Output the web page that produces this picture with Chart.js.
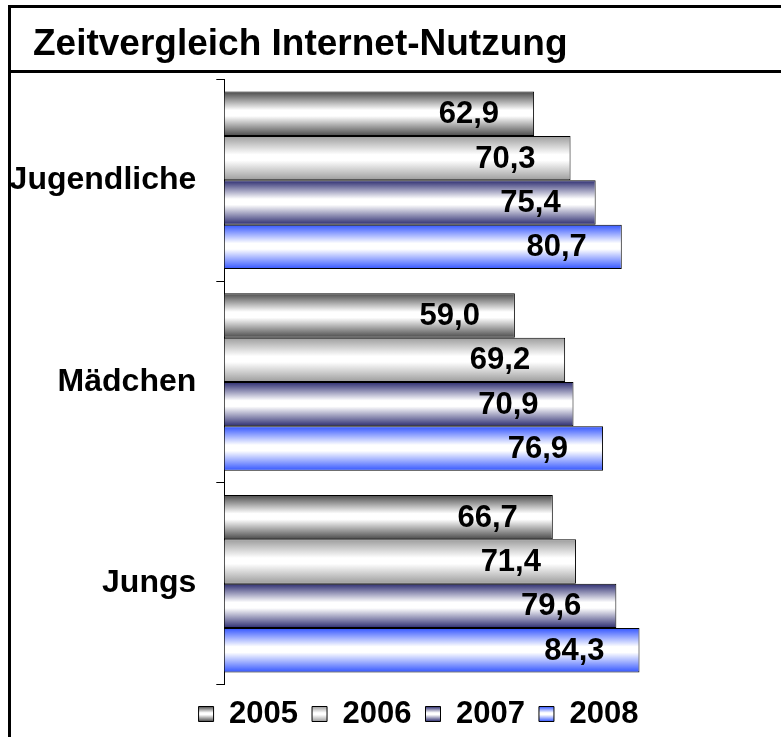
<!DOCTYPE html>
<html>
<head>
<meta charset="utf-8">
<script src="https://cdn.jsdelivr.net/npm/chart.js@4.4.1/dist/chart.umd.min.js"></script>
<style>
  html, body { margin: 0; padding: 0; width: 781px; height: 737px; overflow: hidden; background: #fff; }
  #wrap { position: absolute; left: 11px; top: 8px; width: 793px; height: 732px; }
  .line { position: absolute; background: #000; z-index: 5; }
</style>
</head>
<body>
<div id="wrap"><canvas id="c"></canvas></div>
<div class="line" style="left:8px; top:5px; width:800px; height:3px;"></div>
<div class="line" style="left:8px; top:5px; width:3px; height:740px;"></div>
<div class="line" style="left:8px; top:70px; width:800px; height:3px;"></div>
<script>
const titleText = 'Zeitvergleich Internet-Nutzung';
const categories = ['Jugendliche', 'Mädchen', 'Jungs'];
const seriesNames = ['2005', '2006', '2007', '2008'];
const values2005 = [62.9, 59.0, 66.7];
const values2006 = [70.3, 69.2, 71.4];
const values2007 = [75.4, 70.9, 79.6];
const values2008 = [80.7, 76.9, 84.3];
const edgeColors = ['#4a4a4a', '#9c9c9c', '#2c2c70', '#3355ff'];

const FONT = "'Liberation Sans', Arial, sans-serif";

function makeGrad(ctx, top, h, color) {
  const g = ctx.createLinearGradient(0, top, 0, top + h);
  g.addColorStop(0, color);
  g.addColorStop(0.42, '#ffffff');
  g.addColorStop(0.55, '#ffffff');
  g.addColorStop(1, color);
  return g;
}

const gradientPlugin = {
  id: 'gradients',
  beforeDatasetsDraw(chart) {
    const ctx = chart.ctx;
    chart.data.datasets.forEach((ds, di) => {
      const meta = chart.getDatasetMeta(di);
      meta.data.forEach(el => {
        const top = el.y - el.height / 2;
        el.options.backgroundColor = makeGrad(ctx, top, el.height, edgeColors[di]);
      });
    });
  },
  beforeDraw(chart) {
    // let the long category label run to the canvas edge instead of the scale box
    if (chart.scales.y) chart.scales.y.left = -20;
    const lg = chart.legend;
    if (!lg || !lg.legendItems) return;
    const lo = lg.options.labels;
    const fs = lo.font.size;
    const bh = lo.boxHeight;
    const top = lg.top + lo.padding + Math.max((fs - bh) / 2, 0);
    lg.legendItems.forEach((it) => {
      it.fillStyle = makeGrad(chart.ctx, top, bh, edgeColors[it.datasetIndex]);
    });
  },
  afterDatasetsDraw(chart) {
    const ctx = chart.ctx;
    ctx.save();
    ctx.font = 'bold 31px ' + FONT;
    ctx.fillStyle = '#000';
    ctx.textAlign = 'right';
    ctx.textBaseline = 'middle';
    chart.data.datasets.forEach((ds, di) => {
      const meta = chart.getDatasetMeta(di);
      meta.data.forEach((el, i) => {
        const txt = ds.data[i].toFixed(1).replace('.', ',');
        ctx.fillText(txt, el.x - 35, el.y + 1);
      });
    });
    ctx.restore();
  }
};

const allValues = [values2005, values2006, values2007, values2008];

new Chart(document.getElementById('c'), {
  type: 'bar',
  data: {
    labels: categories,
    datasets: seriesNames.map((name, i) => ({
      label: name,
      data: allValues[i],
      backgroundColor: () => edgeColors[i],
      borderColor: '#000',
      borderWidth: 1,
      borderSkipped: 'start',
      categoryPercentage: 0.88,
      barPercentage: 1.0
    }))
  },
  options: {
    indexAxis: 'y',
    responsive: true,
    maintainAspectRatio: false,
    animation: false,
    events: [],
    layout: { padding: { left: 22, right: 0, top: 0, bottom: 0.5 } },
    scales: {
      x: { type: 'linear', min: 0, max: 117.7, display: false },
      y: {
        type: 'category',
        afterFit: (scale) => { scale.width = 191.3; },
        grid: { offset: true, drawOnChartArea: false, drawTicks: true, tickLength: 8, color: '#000', lineWidth: 1 },
        border: { display: true, color: '#000', width: 1 },
        ticks: { color: '#000', padding: 20, font: { family: FONT, size: 32, weight: 'bold' } }
      }
    },
    plugins: {
      tooltip: { enabled: false },
      title: {
        display: true,
        text: titleText,
        align: 'start',
        color: '#000',
        font: { family: FONT, size: 37, weight: 'bold', lineHeight: 1.2 },
        padding: { top: 14.8, bottom: 12.3 }
      },
      legend: {
        display: true,
        position: 'bottom',
        labels: {
          color: '#000',
          boxWidth: 15,
          boxHeight: 15,
          padding: 14,
          font: { family: FONT, size: 31, weight: 'bold' },
          generateLabels: (chart) => chart.data.datasets.map((ds, i) => ({
            text: ds.label,
            fillStyle: edgeColors[i],
            strokeStyle: '#000',
            lineWidth: 1,
            hidden: false,
            datasetIndex: i
          }))
        }
      }
    }
  },
  plugins: [gradientPlugin]
});
</script>
</body>
</html>
